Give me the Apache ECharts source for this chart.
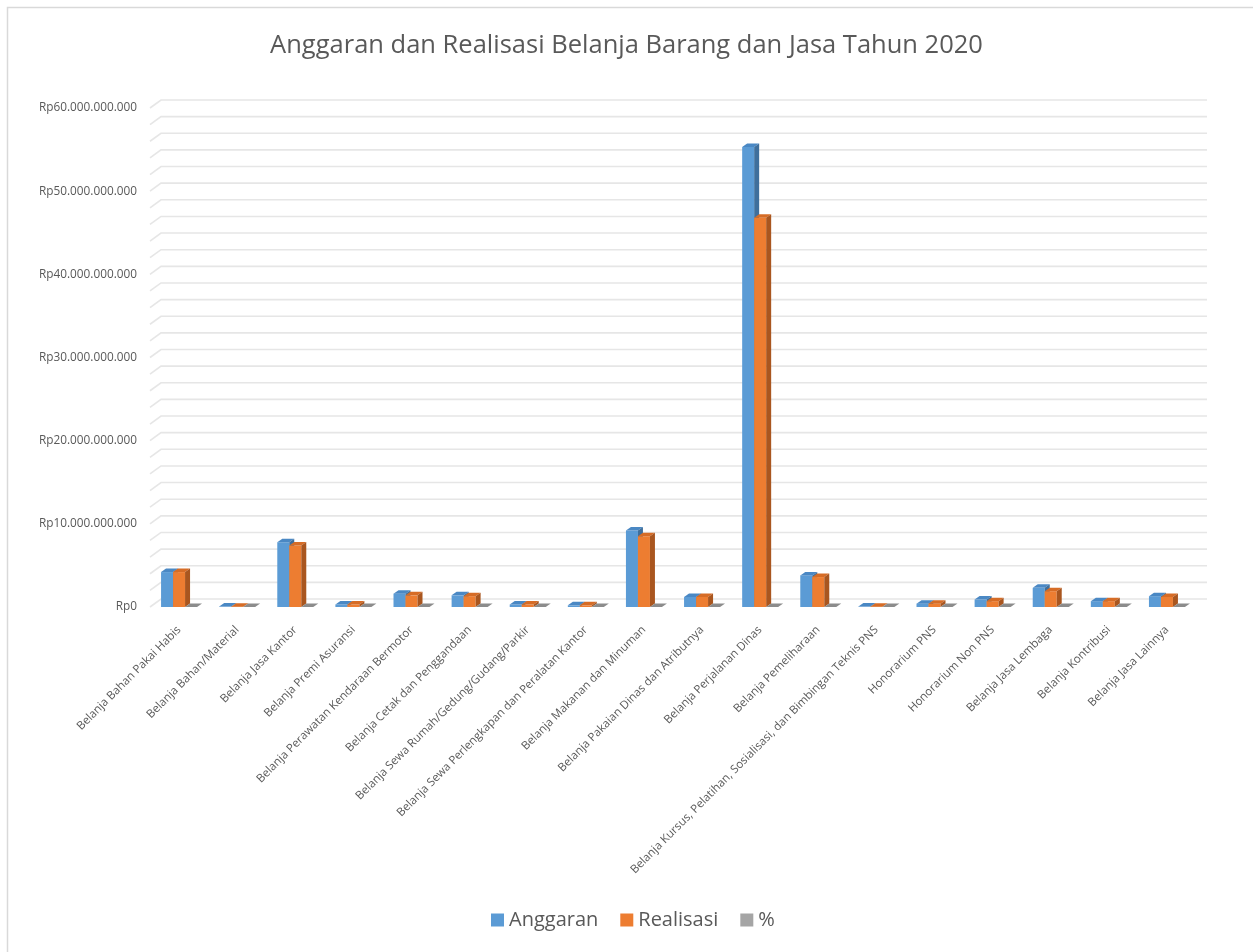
<!DOCTYPE html>
<html>
<head>
<meta charset="utf-8">
<script src="https://cdn.jsdelivr.net/npm/echarts@6/dist/echarts.min.js"></script>
<style>html,body{margin:0;padding:0;background:#fff}#c{width:1253px;height:952px}</style>
</head>
<body>
<div id="c"></div>
<script>
const categories = [
  'Belanja Bahan Pakai Habis',
  'Belanja Bahan/Material',
  'Belanja Jasa Kantor',
  'Belanja Premi Asuransi',
  'Belanja Perawatan Kendaraan Bermotor',
  'Belanja Cetak dan Penggandaan',
  'Belanja Sewa Rumah/Gedung/Gudang/Parkir',
  'Belanja Sewa Perlengkapan dan Peralatan Kantor',
  'Belanja Makanan dan Minuman',
  'Belanja Pakaian Dinas dan Atributnya',
  'Belanja Perjalanan Dinas',
  'Belanja Pemeliharaan',
  'Belanja Kursus, Pelatihan, Sosialisasi, dan Bimbingan Teknis PNS',
  'Honorarium PNS',
  'Honorarium Non PNS',
  'Belanja Jasa Lembaga',
  'Belanja Kontribusi',
  'Belanja Jasa Lainnya'
];
const anggaran = [4200000000, 50000000, 7800000000, 300000000, 1600000000, 1400000000, 300000000, 200000000, 9200000000, 1200000000, 55300000000, 3800000000, 50000000, 400000000, 900000000, 2300000000, 700000000, 1300000000];
const realisasi = [4200000000, 40000000, 7400000000, 300000000, 1400000000, 1300000000, 300000000, 200000000, 8500000000, 1200000000, 46800000000, 3600000000, 40000000, 400000000, 700000000, 1900000000, 700000000, 1200000000];
const persen = [99, 80, 95, 98, 88, 93, 97, 96, 92, 98, 85, 95, 80, 97, 80, 83, 98, 92];
const yTickLabels = ['Rp0', 'Rp10.000.000.000', 'Rp20.000.000.000', 'Rp30.000.000.000', 'Rp40.000.000.000', 'Rp50.000.000.000', 'Rp60.000.000.000'];

const Y_MAX = 60000000000, Y_INT = 10000000000, MINOR = 2000000000;
const DEPTH_X = 11, DEPTH_Y = -8;       // wall depth
const BAR_DX = 5, BAR_DY = -3.5;        // bar depth
const BAR_W = 12;

const gridVals = [];
for (let v = 0; v <= Y_MAX; v += MINOR) gridVals.push(v);

function gridRender(params, api) {
  const cs = params.coordSys;
  const y = api.coord([0, api.value(1)])[1];
  return {
    type: 'polyline',
    shape: { points: [[cs.x, y], [cs.x + DEPTH_X, y + DEPTH_Y], [cs.x + cs.width + DEPTH_X, y + DEPTH_Y]] },
    style: { stroke: '#e6e6e6', lineWidth: 1.6, fill: null },
    silent: true
  };
}

function barRender(offset, front, topC, sideC) {
  return function (params, api) {
    const i = api.value(0), v = api.value(1);
    const t = api.coord([i, v]);
    const b = api.coord([i, 0]);
    const x0 = t[0] + offset, x1 = x0 + BAR_W;
    const yt = t[1], yb = b[1];
    return {
      type: 'group',
      children: [
        { type: 'rect', shape: { x: x0, y: yt, width: BAR_W, height: yb - yt }, style: { fill: front } },
        { type: 'polygon', shape: { points: [[x0, yt], [x1, yt], [x1 + BAR_DX, yt + BAR_DY], [x0 + BAR_DX, yt + BAR_DY]] }, style: { fill: topC } },
        { type: 'polygon', shape: { points: [[x1, yt], [x1 + BAR_DX, yt + BAR_DY], [x1 + BAR_DX, yb + BAR_DY], [x1, yb]] }, style: { fill: sideC } }
      ]
    };
  };
}

const chart = echarts.init(document.getElementById('c'), null, { renderer: 'canvas' });
const FONT = '"Open Sans", "Noto Sans", sans-serif';
chart.setOption({
  backgroundColor: '#ffffff',
  animation: false,
  textStyle: { fontFamily: FONT },
  graphic: [{
    type: 'rect', left: 5, top: 5, shape: { width: 1400, height: 1100 },
    style: { fill: null, stroke: '#d9d9d9', lineWidth: 1.5 }, silent: true, z: -10
  }],
  title: {
    text: 'Anggaran dan Realisasi Belanja Barang dan Jasa Tahun 2020',
    left: 'center', top: 28,
    textStyle: { fontFamily: FONT, fontSize: 25.5, fontWeight: 'normal', color: '#595959' }
  },
  legend: {
    data: ['Anggaran', 'Realisasi', '%'],
    left: 486, top: 905,
    icon: 'rect', itemWidth: 13, itemHeight: 13, itemGap: 22,
    textStyle: { fontFamily: FONT, fontSize: 20, color: '#595959' }
  },
  grid: { left: 150, right: 57, top: 108, bottom: 345 },
  xAxis: {
    type: 'category', data: categories,
    axisLine: { show: false }, axisTick: { show: false },
    axisLabel: { interval: 0, rotate: 45, fontSize: 11.5, color: '#595959', margin: 21, fontFamily: FONT }
  },
  yAxis: {
    type: 'value', min: 0, max: Y_MAX, interval: Y_INT,
    axisLine: { show: false }, axisTick: { show: false }, splitLine: { show: false },
    axisLabel: {
      fontSize: 11.8, color: '#595959', margin: 13, fontFamily: FONT,
      formatter: function (v) { return yTickLabels[Math.round(v / Y_INT)]; }
    }
  },
  series: [
    { type: 'custom', name: 'gridlines', z: 0, silent: true, renderItem: gridRender,
      data: gridVals.map(v => [0, v]), encode: { x: 0, y: 1 } },
    { type: 'custom', name: 'Anggaran', z: 2, itemStyle: { color: '#5b9bd5' },
      renderItem: barRender(-18, '#5b9bd5', '#4a88c4', '#3f6f9c'),
      data: anggaran.map((v, i) => [i, v]), encode: { x: 0, y: 1 } },
    { type: 'custom', name: 'Realisasi', z: 3, itemStyle: { color: '#ed7d31' },
      renderItem: barRender(-6, '#ed7d31', '#d66c26', '#a9561f'),
      data: realisasi.map((v, i) => [i, v]), encode: { x: 0, y: 1 } },
    { type: 'custom', name: '%', z: 4, itemStyle: { color: '#a5a5a5' },
      renderItem: barRender(6, '#a5a5a5', '#8c8c8c', '#767676'),
      data: persen.map((v, i) => [i, v]), encode: { x: 0, y: 1 } }
  ]
});
</script>
</body>
</html>
